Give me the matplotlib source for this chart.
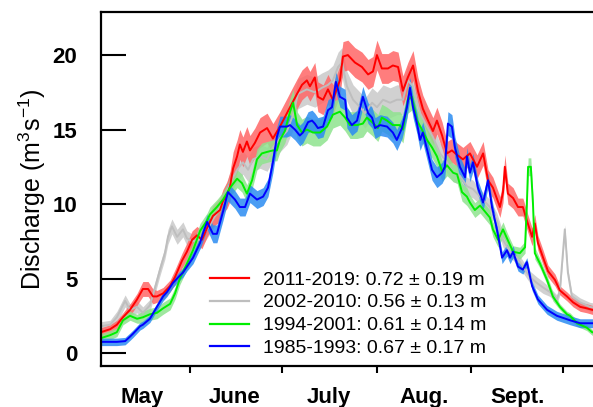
import matplotlib
matplotlib.use("Agg")
from matplotlib import pyplot as plt
from matplotlib.lines import Line2D

plt.rcParams["font.family"] = ["Liberation Sans", "DejaVu Sans"]
plt.rcParams["mathtext.fontset"] = "custom"
plt.rcParams["mathtext.rm"] = "Liberation Sans"
plt.rcParams["mathtext.it"] = "Liberation Sans"

# days counted from May 1 (= 0)
red_days = [1.9, 4.9, 7.1, 9.1, 11.4, 13.7, 15.6, 17.3, 18.9, 20.2,
            22.2, 24.5, 26.1, 28.4, 30.0, 31.7, 33.3, 34.9, 36.6, 38.5,
            40.8, 41.8, 43.1, 44.1, 45.1, 46.4, 47.3, 48.3, 49.6, 50.6,
            52.2, 53.9, 56.2, 58.1, 60.4, 62.7, 63.7, 66.0, 67.6, 69.2,
            70.2, 71.8, 72.8, 74.5, 76.1, 77.7, 80.0, 81.0, 82.6, 84.9,
            87.2, 89.2, 90.8, 92.1, 93.7, 95.7, 97.3, 99.0, 100.6, 102.2,
            103.9, 105.5, 107.1, 108.8, 110.4, 111.7, 113.4, 115.0, 116.6, 118.3,
            120.2, 122.5, 124.8, 126.8, 128.4, 130.0, 132.3, 133.3, 133.9, 134.9,
            136.6, 138.2, 139.8, 141.1, 142.8, 143.7, 144.7, 146.4, 148.0, 150.3,
            151.9, 154.2, 156.2, 158.5, 160.7, 162.4, 165.0]
red_q = [1.4, 1.6, 1.9, 2.4, 2.9, 3.6, 4.3, 4.3, 3.8, 3.8,
         4.0, 4.5, 5.1, 6.2, 6.8, 7.6, 7.9, 7.6, 8.4, 9.2,
         9.6, 10.2, 10.6, 11.2, 12.4, 13.2, 14.0, 13.5, 14.2, 13.6,
         14.1, 14.8, 15.1, 14.4, 15.2, 16.1, 16.5, 17.4, 18.0, 18.3,
         17.9, 18.5, 17.2, 17.0, 17.7, 17.0, 18.3, 19.9, 20.0, 19.5,
         19.2, 18.7, 18.9, 20.0, 19.1, 19.1, 19.3, 19.2, 17.6, 18.5,
         19.3, 17.6, 16.4, 15.6, 14.9, 15.6, 14.6, 13.4, 13.6, 13.3,
         13.0, 13.4, 12.5, 13.4, 11.6, 11.1, 9.8, 10.8, 12.5, 10.7,
         10.4, 9.8, 9.8, 8.9, 7.8, 8.7, 7.4, 6.4, 5.5, 4.9,
         4.2, 3.8, 3.4, 3.1, 3.0, 2.9, 2.8]
red_se = [0.3, 0.3, 0.3, 0.3, 0.4, 0.4, 0.5, 0.5, 0.5, 0.4,
          0.4, 0.4, 0.5, 0.5, 0.6, 0.6, 0.6, 0.6, 0.6, 0.7,
          0.8, 0.8, 0.9, 1.0, 1.1, 1.1, 1.0, 1.0, 1.0, 1.0,
          1.0, 1.0, 1.0, 1.0, 1.0, 1.0, 1.0, 1.0, 1.0, 1.0,
          1.0, 1.0, 1.0, 1.0, 1.0, 1.0, 1.0, 1.0, 1.0, 1.0,
          1.0, 1.0, 1.0, 1.0, 1.0, 1.0, 1.0, 1.0, 1.0, 1.0,
          1.0, 0.9, 0.9, 0.9, 0.9, 0.9, 0.9, 0.8, 0.8, 0.8,
          0.8, 0.8, 0.8, 0.8, 0.7, 0.7, 0.7, 0.7, 0.8, 0.7,
          0.7, 0.6, 0.6, 0.6, 0.6, 0.6, 0.5, 0.5, 0.4, 0.4,
          0.3, 0.3, 0.3, 0.3, 0.3, 0.3, 0.3]

gray_days = [1.9, 4.9, 7.1, 9.8, 11.4, 13.7, 15.6, 17.9, 19.6, 21.2,
             22.8, 23.8, 25.1, 26.8, 28.7, 30.0, 31.7, 34.3, 37.5, 41.8,
             44.1, 46.4, 48.3, 50.0, 51.6, 53.9, 56.2, 58.1, 60.4, 62.7,
             64.7, 66.3, 69.2, 71.8, 74.1, 76.1, 77.7, 79.4, 80.7, 82.3,
             84.3, 86.6, 88.2, 90.5, 92.1, 94.1, 96.4, 98.6, 100.6, 102.2,
             103.9, 106.2, 108.5, 110.4, 112.7, 115.0, 117.0, 119.2, 121.5, 123.5,
             125.8, 129.0, 131.3, 133.3, 135.6, 137.9, 139.8, 142.1, 144.4, 146.4,
             148.6, 150.9, 151.9, 153.5, 154.5, 155.8, 158.5, 161.7, 165.0]
gray_q = [1.8, 1.9, 2.4, 3.5, 2.9, 3.1, 2.7, 3.2, 4.4, 5.6,
          6.7, 7.8, 8.5, 7.8, 8.3, 7.7, 7.5, 7.6, 8.6, 10.1,
          11.4, 12.3, 12.8, 12.3, 13.0, 13.2, 13.0, 13.8, 14.4, 14.9,
          16.0, 17.4, 17.7, 17.5, 17.8, 18.0, 18.3, 19.2, 19.5, 17.9,
          17.0, 16.5, 16.1, 16.8, 16.5, 17.0, 16.8, 17.0, 17.0, 18.3,
          17.9, 16.1, 15.2, 14.5, 13.4, 12.8, 12.1, 11.9, 11.2, 11.0,
          10.5, 9.8, 8.9, 7.6, 6.8, 6.4, 5.8, 5.1, 4.7, 4.4,
          4.1, 3.6, 4.2, 8.3, 5.4, 3.8, 3.4, 3.1, 3.0]
gray_se = [0.3, 0.3, 0.4, 0.4, 0.4, 0.4, 0.4, 0.4, 0.4, 0.4,
           0.4, 0.5, 0.5, 0.5, 0.5, 0.5, 0.5, 0.6, 0.6, 0.7,
           0.7, 0.8, 0.8, 0.8, 0.8, 0.8, 0.8, 0.9, 0.9, 0.9,
           1.0, 1.0, 1.0, 1.0, 1.0, 1.0, 1.0, 1.0, 1.0, 1.0,
           1.0, 1.0, 1.0, 1.0, 1.0, 1.0, 1.0, 1.0, 1.0, 1.0,
           1.0, 0.9, 0.8, 0.8, 0.7, 0.7, 0.6, 0.6, 0.6, 0.6,
           0.5, 0.5, 0.5, 0.5, 0.4, 0.4, 0.4, 0.4, 0.4, 0.4,
           0.3, 0.3, 0.3, 0.3, 0.3, 0.3, 0.3, 0.3, 0.3]

green_days = [1.9, 4.9, 7.1, 9.1, 11.4, 13.7, 15.6, 17.9, 20.2, 22.2,
              24.5, 26.1, 27.7, 30.0, 32.0, 34.3, 36.6, 37.5, 39.8, 41.8,
              44.1, 46.4, 48.0, 49.6, 51.3, 52.9, 54.5, 56.2, 58.1, 59.4,
              60.4, 62.0, 63.7, 64.7, 66.0, 67.6, 69.2, 71.2, 73.5, 75.8,
              77.7, 80.0, 81.7, 83.3, 85.6, 87.5, 88.8, 90.5, 92.4, 93.7,
              95.4, 97.3, 99.6, 100.6, 102.2, 103.5, 105.2, 106.8, 108.5, 110.1,
              111.7, 113.4, 115.0, 117.0, 118.3, 119.9, 121.5, 122.5, 124.1, 125.8,
              127.4, 129.0, 130.0, 131.7, 133.3, 134.6, 136.6, 138.8, 140.5, 141.1,
              141.5, 142.4, 143.1, 143.7, 145.4, 147.7, 149.6, 151.9, 154.2, 155.2,
              157.5, 160.7, 162.4, 165.0]
green_q = [1.0, 1.2, 1.4, 2.2, 2.5, 2.3, 2.4, 2.6, 2.7, 3.0,
           3.3, 4.0, 5.0, 6.0, 6.9, 8.2, 8.9, 9.3, 9.8, 10.3,
           11.1, 11.7, 11.4, 10.7, 11.6, 13.0, 13.4, 13.5, 13.6, 13.6,
           14.3, 14.9, 16.2, 16.8, 15.3, 14.8, 15.0, 14.8, 14.8, 15.2,
           16.0, 16.2, 15.8, 15.3, 15.3, 15.4, 15.8, 15.5, 15.1, 15.8,
           15.6, 15.3, 15.3, 15.0, 17.0, 17.2, 15.6, 15.0, 14.3, 13.8,
           13.2, 12.2, 12.6, 12.1, 12.0, 10.8, 10.5, 10.1, 9.6, 9.9,
           9.5, 9.1, 8.3, 7.6, 8.3, 7.7, 6.8, 6.7, 7.1, 10.0,
           12.5, 12.5, 10.0, 6.7, 6.0, 4.9, 3.8, 3.1, 2.6, 2.5,
           2.0, 1.7, 1.4, 1.3]
green_se = [0.3, 0.3, 0.3, 0.3, 0.3, 0.3, 0.4, 0.4, 0.4, 0.4,
            0.4, 0.4, 0.4, 0.4, 0.5, 0.5, 0.5, 0.5, 0.5, 0.5,
            0.6, 0.6, 0.6, 0.6, 0.6, 0.7, 0.7, 0.7, 0.7, 0.7,
            0.8, 0.8, 0.9, 0.9, 0.9, 0.9, 0.9, 0.9, 0.9, 0.9,
            0.9, 0.9, 0.9, 0.9, 0.9, 0.9, 0.9, 0.9, 0.9, 0.9,
            0.9, 0.9, 0.9, 0.9, 0.9, 0.9, 0.8, 0.8, 0.8, 0.7,
            0.7, 0.7, 0.7, 0.6, 0.6, 0.6, 0.6, 0.5, 0.5, 0.5,
            0.5, 0.5, 0.5, 0.5, 0.5, 0.4, 0.4, 0.4, 0.4, 0.5,
            0.6, 0.6, 0.5, 0.4, 0.3, 0.3, 0.3, 0.2, 0.2, 0.2,
            0.2, 0.2, 0.2, 0.2]

blue_days = [1.9, 4.9, 7.1, 9.8, 11.4, 12.4, 14.7, 15.6, 17.9, 20.2,
             22.2, 23.5, 25.4, 27.7, 28.7, 30.0, 32.0, 34.3, 35.2, 36.6,
             38.5, 39.8, 41.8, 43.4, 45.7, 47.3, 49.0, 50.6, 52.9, 54.9,
             56.5, 58.1, 59.4, 60.4, 62.7, 63.7, 65.3, 66.9, 67.9, 69.6,
             70.9, 71.8, 72.8, 74.5, 76.1, 77.4, 78.7, 80.0, 81.7, 82.3,
             83.9, 85.6, 87.5, 89.2, 90.5, 91.5, 93.1, 95.4, 97.3, 98.6,
             100.3, 101.9, 102.9, 103.9, 105.2, 106.2, 107.1, 108.8, 110.1, 111.7,
             113.4, 114.3, 115.3, 116.6, 117.6, 119.2, 120.9, 121.5, 122.5, 123.5,
             125.1, 126.8, 128.4, 129.7, 131.3, 133.0, 134.6, 135.6, 136.6, 138.2,
             139.8, 141.1, 142.8, 144.7, 147.7, 150.9, 155.2, 158.5, 162.4, 165.0]
blue_q = [0.75, 0.75, 0.75, 0.8, 1.1, 1.3, 1.8, 1.9, 2.3, 3.1,
          3.8, 4.1, 4.7, 5.2, 5.4, 5.8, 6.4, 7.4, 8.0, 8.8,
          8.0, 8.0, 9.5, 10.8, 10.3, 9.8, 9.8, 10.7, 10.3, 10.5,
          11.1, 12.8, 14.5, 15.2, 15.2, 15.3, 15.0, 14.6, 14.8, 15.5,
          15.6, 15.4, 15.1, 15.2, 16.3, 16.5, 18.2, 17.2, 17.0, 15.8,
          15.3, 15.6, 17.2, 16.1, 15.8, 15.1, 15.3, 15.2, 14.8, 14.3,
          15.1, 16.5, 17.8, 16.5, 15.4, 14.3, 14.8, 13.4, 12.3, 11.8,
          12.1, 12.5, 15.4, 15.2, 13.8, 12.5, 11.8, 13.2, 12.1, 12.8,
          11.1, 10.1, 11.6, 9.8, 8.3, 6.4, 6.9, 6.4, 6.8, 5.8,
          5.6, 6.1, 4.5, 3.6, 2.9, 2.5, 2.2, 2.0, 2.0, 2.0]
blue_se = [0.25, 0.25, 0.25, 0.25, 0.25, 0.25, 0.25, 0.25, 0.25, 0.25,
           0.3, 0.3, 0.3, 0.3, 0.3, 0.3, 0.4, 0.4, 0.5, 0.5,
           0.6, 0.6, 0.6, 0.6, 0.6, 0.6, 0.6, 0.6, 0.6, 0.6,
           0.6, 0.7, 0.7, 0.7, 0.7, 0.7, 0.7, 0.7, 0.7, 0.7,
           0.7, 0.7, 0.7, 0.7, 0.7, 0.7, 0.7, 0.7, 0.7, 0.7,
           0.7, 0.7, 0.7, 0.7, 0.7, 0.7, 0.7, 0.7, 0.7, 0.7,
           0.7, 0.7, 0.7, 0.7, 0.7, 0.7, 0.7, 0.7, 0.7, 0.7,
           0.7, 0.7, 0.8, 0.8, 0.7, 0.7, 0.6, 0.6, 0.6, 0.6,
           0.5, 0.5, 0.5, 0.5, 0.4, 0.4, 0.4, 0.4, 0.4, 0.3,
           0.3, 0.3, 0.3, 0.3, 0.3, 0.3, 0.3, 0.3, 0.3, 0.3]

legend_labels = ["2011-2019: 0.72 \u00b1 0.19 m",
                 "2002-2010: 0.56 \u00b1 0.13 m",
                 "1994-2001: 0.61 \u00b1 0.14 m",
                 "1985-1993: 0.67 \u00b1 0.17 m"]
month_names = ["May", "June", "July", "Aug.", "Sept."]
month_starts = [31, 61, 92, 123, 153]
month_mids = [15.5, 45.5, 76.5, 107.5, 138]

series = {
    "gray": (gray_days, gray_q, gray_se, "#c9c9c9", "#bebebe"),
    "red": (red_days, red_q, red_se, "#ff6666", "#ff0000"),
    "green": (green_days, green_q, green_se, "#8ee38e", "#00ee00"),
    "blue": (blue_days, blue_q, blue_se, "#2b8cf2", "#0000ff"),
}

fig = plt.figure(figsize=(5.93, 4.07), dpi=100)
ax = fig.add_axes([101/593, 41/407, 499/593, 354/407])

for name in ["gray", "red", "green", "blue"]:
    d, q, se, band, line = series[name]
    lo = [a - b for a, b in zip(q, se)]
    hi = [a + b for a, b in zip(q, se)]
    ax.fill_between(d, lo, hi, color=band, alpha=0.85, lw=0)
for name in ["gray", "red", "green", "blue"]:
    d, q, se, band, line = series[name]
    ax.plot(d, q, color=line, lw=1.4)

ax.set_xlim(1.92, 165.0)
ax.set_ylim(-0.87, 22.89)

ax.spines["right"].set_visible(False)
for s in ["left", "bottom", "top"]:
    ax.spines[s].set_linewidth(1.6)

ax.set_yticks([0, 5, 10, 15, 20])
ax.tick_params(axis="y", direction="in", length=18, width=1.5, pad=17,
               labelsize=16)
for t in ax.get_yticklabels():
    t.set_fontweight("bold")

ax.set_xticks(month_starts)
ax.set_xticklabels([])
ax.tick_params(axis="x", which="major", direction="out", length=5, width=1.5)
ax.set_xticks(month_mids, minor=True)
ax.set_xticklabels(month_names, minor=True, fontweight="bold", fontsize=16)
ax.tick_params(axis="x", which="minor", length=0, pad=15)

ax.set_ylabel(r"Discharge (m$^{3}$s$^{-1}$)", fontsize=18, va="center")
ax.yaxis.set_label_coords(-0.138, 0.5)

handles = [Line2D([], [], color=c, lw=1.6) for c in ["#ff0000", "#bebebe", "#00ee00", "#0000ff"]]
fig.legend(handles, legend_labels, loc="upper left",
           bbox_to_anchor=(210/593, 1 - 271/407), frameon=False,
           borderpad=0, borderaxespad=0, handlelength=2.0,
           handletextpad=0.75, labelspacing=0.27, fontsize=14)

fig.savefig("out.png", dpi=100)
